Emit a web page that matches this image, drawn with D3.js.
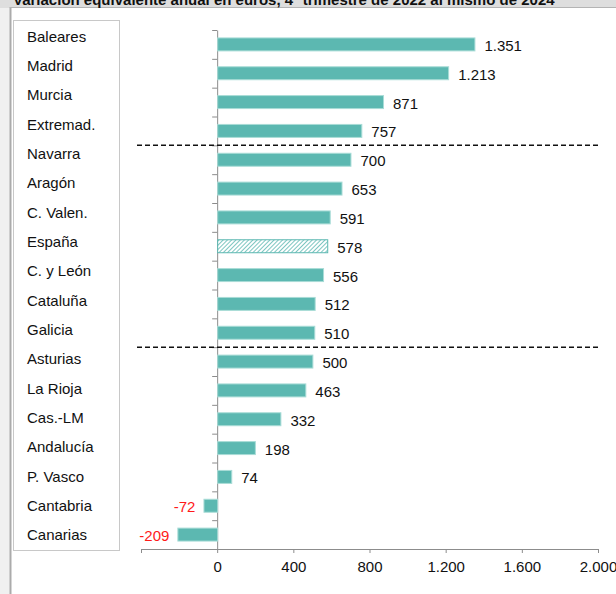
<!DOCTYPE html>
<html>
<head>
<meta charset="utf-8">
<script src="https://cdn.jsdelivr.net/npm/d3@7"></script>
<style>
  html, body { margin: 0; padding: 0; background: #f0f0f0; }
  svg { display: block; font-family: Arial, "Liberation Sans", sans-serif; }
</style>
</head>
<body>
<svg id="chart" width="616" height="594"></svg>
<script>
// Variación equivalente anual por comunidad autónoma
const TITLE = 'Variación equivalente anual en euros, 4º trimestre de 2022 al mismo de 2024';
const categories = ['Baleares', 'Madrid', 'Murcia', 'Extremad.', 'Navarra', 'Aragón', 'C. Valen.', 'España',
  'C. y León', 'Cataluña', 'Galicia', 'Asturias', 'La Rioja', 'Cas.-LM', 'Andalucía', 'P. Vasco', 'Cantabria', 'Canarias'];
const values = [1351, 1213, 871, 757, 700, 653, 591, 578, 556, 512, 510, 500, 463, 332, 198, 74, -72, -209];
const highlighted = ['España'];
const groupStarts = ['Navarra', 'Asturias'];   // líneas discontinuas encima de estas filas
const xTicks = [-400, 0, 400, 800, 1200, 1600, 2000];

const TEAL = '#5cb8b1';
const fmt = d3.formatLocale({ decimal: ',', thousands: '.', grouping: [3], currency: ['', ' €'], minus: '-' }).format(',d');

const svg = d3.select('#chart');

// --- marco ---
svg.append('rect').attr('x', 0).attr('y', 0).attr('width', 616).attr('height', 8).attr('fill', '#dedede');
svg.append('rect').attr('x', 11).attr('y', 8).attr('width', 605).attr('height', 586).attr('fill', '#fff');
svg.append('line').attr('x1', 10.5).attr('x2', 10.5).attr('y1', 7).attr('y2', 594).attr('stroke', '#ababab').attr('stroke-width', 2);
svg.append('line').attr('x1', 10).attr('x2', 616).attr('y1', 7.5).attr('y2', 7.5).attr('stroke', '#b4b4b4');
// el título queda cortado por el borde superior, como en el original
svg.append('text').attr('x', 13).attr('y', 5)
  .style('font-size', '15px').style('font-weight', 'bold').style('fill', '#111')
  .text(TITLE);

// --- caja de categorías ---
svg.append('rect').attr('x', 13.5).attr('y', 20.5).attr('width', 106).attr('height', 530)
  .attr('fill', '#fff').attr('stroke', '#c8c8c8');

const yLabel = d3.scaleBand().domain(categories).range([21.5, 549.5]);
svg.append('g').selectAll('text').data(categories).join('text')
  .attr('x', 27).attr('y', d => yLabel(d) + yLabel.bandwidth() / 2)
  .attr('dominant-baseline', 'central')
  .style('font-size', '15px').style('fill', '#111')
  .text(d => d);

// --- escalas ---
const x = d3.scaleLinear().domain([-400, 2000]).range([141, 598]);
const TOP = 30, BOTTOM = 549;
const y = d3.scaleBand().domain(categories).range([TOP, BOTTOM]).paddingInner(0.55).paddingOuter(0.275);
const yIdx = d3.scaleLinear().domain([0, categories.length]).range([TOP, BOTTOM]);

// patrón rayado para España
const defs = svg.append('defs');
const pat = defs.append('pattern').attr('id', 'hatch').attr('patternUnits', 'userSpaceOnUse')
  .attr('width', 3).attr('height', 3).attr('patternTransform', 'rotate(45)');
pat.append('rect').attr('width', 3).attr('height', 3).attr('fill', '#fff');
pat.append('line').attr('x1', 0).attr('x2', 0).attr('y1', 0).attr('y2', 3).attr('stroke', TEAL).attr('stroke-width', 1.6);

// --- ejes ---
svg.append('g').attr('transform', `translate(${x(0)},0)`)
  .call(d3.axisLeft(yIdx).tickValues(d3.range(0, categories.length)).tickFormat('').tickSize(5).tickSizeOuter(0))
  .call(g => g.selectAll('path, line').attr('stroke', '#8c8c8c'));

svg.append('g').attr('transform', `translate(0,${BOTTOM})`)
  .call(d3.axisBottom(x).tickValues(xTicks).tickFormat(d => d < 0 ? '' : fmt(d)).tickSize(4).tickSizeOuter(0).tickPadding(8))
  .call(g => g.selectAll('path, line').attr('stroke', '#8c8c8c'))
  .call(g => g.selectAll('text').style('font-size', '15px').style('fill', '#111')
    .attr('font-family', 'Arial, "Liberation Sans", sans-serif'));

// --- barras ---
const data = categories.map((c, i) => ({ c, v: values[i] }));
svg.append('g').selectAll('rect').data(data).join('rect')
  .attr('x', d => x(Math.min(0, d.v)) + 0.5)
  .attr('y', d => y(d.c))
  .attr('width', d => Math.abs(x(d.v) - x(0)))
  .attr('height', y.bandwidth())
  .attr('fill', d => highlighted.includes(d.c) ? 'url(#hatch)' : TEAL)
  .attr('stroke', d => highlighted.includes(d.c) ? TEAL : '#a9dcd7')
  .attr('stroke-width', 1);

svg.append('g').selectAll('text').data(data).join('text')
  .attr('x', d => d.v >= 0 ? x(d.v) + 10 : x(d.v) - 8)
  .attr('y', d => y(d.c) + y.bandwidth() / 2 + 1)
  .attr('text-anchor', d => d.v >= 0 ? 'start' : 'end')
  .attr('dominant-baseline', 'central')
  .style('font-size', '15px')
  .style('fill', d => d.v >= 0 ? '#111' : '#ff1a1a')
  .text(d => fmt(d.v));

// --- líneas discontinuas de grupo ---
svg.append('g').selectAll('line').data(groupStarts).join('line')
  .attr('x1', 137).attr('x2', 599)
  .attr('y1', d => yIdx(categories.indexOf(d)))
  .attr('y2', d => yIdx(categories.indexOf(d)))
  .attr('stroke', '#111').attr('stroke-width', 1.5).attr('stroke-dasharray', '5,3');
</script>
</body>
</html>
